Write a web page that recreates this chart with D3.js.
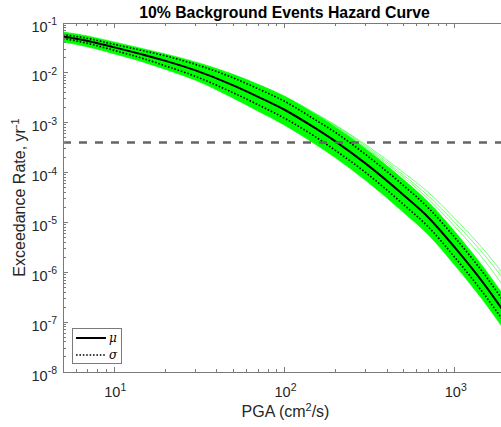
<!DOCTYPE html>
<html>
<head>
<meta charset="utf-8">
<script src="https://cdn.jsdelivr.net/npm/d3@7"></script>
<style>
  body { margin: 0; background: #fff; }
  svg { display: block; font-family: "Liberation Sans", Arial, Helvetica, sans-serif; }
</style>
</head>
<body>
<svg width="501" height="427"></svg>
<script>

// DATA ––––––––––––––––––––––––––––––––––––––––––––––––––––––––––––––––

var pga = [5, 7, 10, 15, 20, 30, 50, 70, 100, 150, 200, 300, 500, 700, 1000, 1500, 2000];

// mean hazard curve (mu)
var meanRate = [0.0537, 0.0437, 0.0324, 0.0229, 0.0174, 0.0112, 0.00562, 0.00331, 0.00182,
  7.94e-4, 4.17e-4, 1.51e-4, 3.55e-5, 1.26e-5, 3.16e-6, 5.6e-7, 1.41e-7];

// mu +/- sigma
var sigmaHigh = [0.0589, 0.0490, 0.0372, 0.0275, 0.0219, 0.0148, 0.00794, 0.00479, 0.00269,
  1.17e-3, 6.31e-4, 2.29e-4, 5.5e-5, 1.95e-5, 5.0e-6, 8.9e-7, 2.24e-7];
var sigmaLow = [0.0490, 0.0389, 0.0282, 0.0191, 0.0138, 0.00851, 0.00398, 0.00229, 0.00123,
  5.37e-4, 2.75e-4, 1.0e-4, 2.29e-5, 8.1e-6, 2.0e-6, 3.5e-7, 8.9e-8];

// envelope of the green realisations
var bandHigh = [0.0661, 0.0550, 0.0417, 0.0302, 0.0240, 0.0166, 0.00933, 0.00589, 0.00339,
  1.51e-3, 8.13e-4, 3.02e-4, 7.24e-5, 2.57e-5, 6.6e-6, 1.17e-6, 2.95e-7];
var bandLow = [0.0417, 0.0331, 0.0240, 0.0162, 0.0117, 0.00708, 0.00309, 0.0017, 8.91e-4,
  3.8e-4, 1.95e-4, 6.9e-5, 1.58e-5, 5.6e-6, 1.38e-6, 2.45e-7, 6.2e-8];

// a few single realisations that stray above the band
var outlierA = [0.0646, 0.0525, 0.0398, 0.0288, 0.0229, 0.0158, 0.00891, 0.00575, 0.00339,
  1.58e-3, 8.91e-4, 3.63e-4, 1.0e-4, 3.98e-5, 1.2e-5, 2.69e-6, 7.94e-7];
var outlierB = [0.0631, 0.0513, 0.0389, 0.0282, 0.0224, 0.0155, 0.00871, 0.00562, 0.00331,
  1.55e-3, 8.7e-4, 3.39e-4, 8.91e-5, 3.39e-5, 1.0e-5, 2.19e-6, 6.31e-7];
var outlierC = [0.0617, 0.0501, 0.0380, 0.0275, 0.0219, 0.0151, 0.00851, 0.00550, 0.00324,
  1.5e-3, 8.3e-4, 3.16e-4, 8.1e-5, 2.95e-5, 8.3e-6, 1.7e-6, 4.5e-7];

var hazardLevel = 4.0e-4;

var xMajor = [10, 100, 1000];
var xMinor = [5, 6, 7, 8, 9, 20, 30, 40, 50, 60, 70, 80, 90, 200, 300, 400, 500, 600, 700, 800, 900, 2000];
var yMajorExp = [-8, -7, -6, -5, -4, -3, -2, -1];

var titleText = "10% Background Events Hazard Curve";

// DRAW ––––––––––––––––––––––––––––––––––––––––––––––––––––––––––––––––

var draw = function() {

  var svg = d3.select("svg"),
      pL = 63, pR = 506, pT = 23, pB = 372;

  var x = d3.scaleLog().domain([5, 2000]).range([pL, pR]);
  var y = d3.scaleLog().domain([1e-8, 1e-1]).range([pB, pT]);

  svg.append("clipPath").attr("id", "plotclip")
    .append("rect").attr("x", pL).attr("y", pT)
    .attr("width", pR - pL).attr("height", pB - pT);

  var plot = svg.append("g").attr("clip-path", "url(#plotclip)");

  var line = d3.line()
    .x(function(d, i) { return x(pga[i]); })
    .y(function(d) { return y(d); })
    .curve(d3.curveMonotoneX);

  var area = d3.area()
    .x(function(d, i) { return x(pga[i]); })
    .y0(function(d, i) { return y(bandLow[i]); })
    .y1(function(d, i) { return y(bandHigh[i]); })
    .curve(d3.curveMonotoneX);

  plot.append("path").datum(bandHigh)
    .attr("fill", "#00ff00")
    .attr("d", area);

  [bandHigh, bandLow, outlierA, outlierB, outlierC].forEach(function(s) {
    plot.append("path").datum(s)
      .attr("fill", "none")
      .attr("stroke", "#00ff00")
      .attr("stroke-opacity", 0.6)
      .attr("stroke-width", 0.9)
      .attr("d", line);
  });

  plot.append("path").datum(meanRate)
    .attr("fill", "none").attr("stroke", "#000").attr("stroke-width", 2)
    .attr("d", line);

  [sigmaHigh, sigmaLow].forEach(function(s) {
    plot.append("path").datum(s)
      .attr("fill", "none").attr("stroke", "#000").attr("stroke-width", 1.6)
      .attr("stroke-dasharray", "1.6,1.8")
      .attr("d", line);
  });

  plot.append("line")
    .attr("x1", pL).attr("x2", pR)
    .attr("y1", y(hazardLevel)).attr("y2", y(hazardLevel))
    .attr("stroke", "#666").attr("stroke-width", 2.5)
    .attr("stroke-dasharray", "8,8");

  // axes box and ticks
  var axisColor = "#7a7a7a";
  var ax = svg.append("g").attr("stroke", axisColor).attr("stroke-width", 1).attr("shape-rendering", "crispEdges");

  ax.append("line").attr("x1", pL).attr("x2", pR).attr("y1", pB + 0.5).attr("y2", pB + 0.5);
  ax.append("line").attr("x1", pL).attr("x2", pR).attr("y1", pT + 0.5).attr("y2", pT + 0.5);
  ax.append("line").attr("x1", pL + 0.5).attr("x2", pL + 0.5).attr("y1", pT).attr("y2", pB);

  xMajor.forEach(function(v) {
    ax.append("line").attr("x1", x(v)).attr("x2", x(v)).attr("y1", pB).attr("y2", pB - 5);
    ax.append("line").attr("x1", x(v)).attr("x2", x(v)).attr("y1", pT).attr("y2", pT + 5);
  });
  xMinor.forEach(function(v) {
    ax.append("line").attr("x1", x(v)).attr("x2", x(v)).attr("y1", pB).attr("y2", pB - 3);
    ax.append("line").attr("x1", x(v)).attr("x2", x(v)).attr("y1", pT).attr("y2", pT + 3);
  });

  yMajorExp.forEach(function(e) {
    var v = Math.pow(10, e);
    ax.append("line").attr("x1", pL).attr("x2", pL + 5).attr("y1", y(v)).attr("y2", y(v));
    if (e < -1) {
      for (var k = 2; k <= 9; k++) {
        ax.append("line").attr("x1", pL).attr("x2", pL + 2.5)
          .attr("y1", y(k * v)).attr("y2", y(k * v));
      }
    }
  });

  // tick labels
  var txt = "#262626";
  xMajor.forEach(function(v) {
    var t = svg.append("text").attr("x", x(v) + 1).attr("y", 397)
      .attr("text-anchor", "middle").attr("fill", txt).attr("font-size", 14.5);
    t.append("tspan").text("10");
    t.append("tspan").attr("dy", -6.5).attr("font-size", 10.5).text(Math.round(Math.log10(v)));
  });

  yMajorExp.forEach(function(e) {
    var t = svg.append("text").attr("x", 57).attr("y", y(Math.pow(10, e)) + 8.5)
      .attr("text-anchor", "end").attr("fill", txt).attr("font-size", 14.5);
    t.append("tspan").text("10");
    t.append("tspan").attr("dy", -6.5).attr("font-size", 10.5).text("-" + (-e));
  });

  // titles
  svg.append("text").attr("x", (pL + pR) / 2).attr("y", 18)
    .attr("text-anchor", "middle").attr("font-weight", "bold").attr("font-size", 15.8)
    .attr("fill", "#000").text(titleText);

  var xt = svg.append("text").attr("x", (pL + pR) / 2 + 1).attr("y", 417)
    .attr("text-anchor", "middle").attr("font-size", 16).attr("fill", txt);
  xt.append("tspan").text("PGA (cm");
  xt.append("tspan").attr("dy", -6.5).attr("font-size", 11).text("2");
  xt.append("tspan").attr("dy", 6.5).text("/s)");

  var yt = svg.append("text").attr("transform", "translate(25," + ((pT + pB) / 2) + ") rotate(-90)")
    .attr("text-anchor", "middle").attr("font-size", 16).attr("fill", txt);
  yt.append("tspan").text("Exceedance Rate, yr");
  yt.append("tspan").attr("dy", -6.5).attr("font-size", 11).text("-1");

  // legend
  var lg = svg.append("g");
  lg.append("rect").attr("x", 72.5).attr("y", 328.5).attr("width", 49).attr("height", 35)
    .attr("fill", "#fff").attr("stroke", axisColor).attr("stroke-width", 1);
  lg.append("line").attr("x1", 76).attr("x2", 106).attr("y1", 338).attr("y2", 338)
    .attr("stroke", "#000").attr("stroke-width", 2);
  lg.append("line").attr("x1", 76).attr("x2", 106).attr("y1", 355).attr("y2", 355)
    .attr("stroke", "#000").attr("stroke-width", 1.6).attr("stroke-dasharray", "1.6,1.8");
  lg.append("text").attr("x", 109).attr("y", 342).attr("font-family", "'DejaVu Serif', 'Liberation Serif', serif")
    .attr("font-style", "italic").attr("font-size", 12).attr("fill", "#000").text("μ");
  lg.append("text").attr("x", 109).attr("y", 359).attr("font-family", "'DejaVu Serif', 'Liberation Serif', serif")
    .attr("font-style", "italic").attr("font-size", 12).attr("fill", "#000").text("σ");
};

draw();

</script>
</body>
</html>
